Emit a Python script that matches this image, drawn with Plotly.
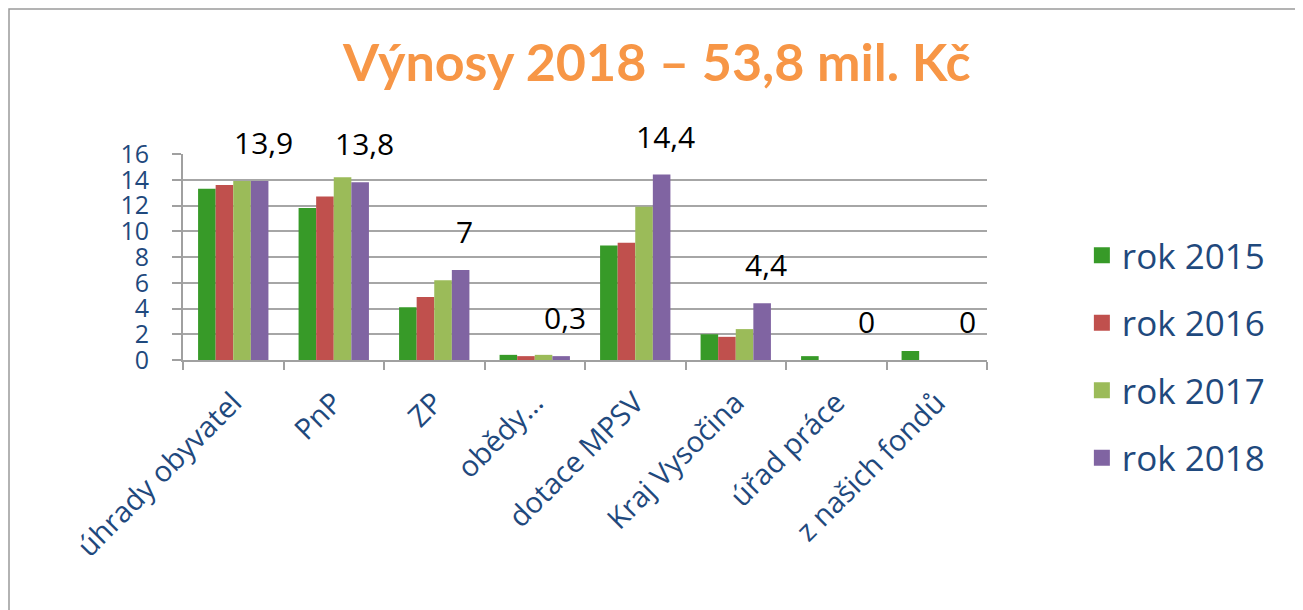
import plotly.graph_objects as go

categories = ["úhrady obyvatel", "PnP", "ZP", "obědy…", "dotace MPSV",
              "Kraj Vysočina", "úřad práce", "z našich fondů"]
series_names = ["rok 2015", "rok 2016", "rok 2017", "rok 2018"]
v2015 = [13.3, 11.8, 4.1, 0.4, 8.9, 2.0, 0.3, 0.7]
v2016 = [13.6, 12.7, 4.9, 0.3, 9.1, 1.8, 0.0, 0.0]
v2017 = [13.9, 14.2, 6.2, 0.4, 11.9, 2.4, 0.0, 0.0]
v2018 = [13.9, 13.8, 7.0, 0.3, 14.4, 4.4, 0.0, 0.0]
y_ticks = [0, 2, 4, 6, 8, 10, 12, 14, 16]
title_text = "Výnosy 2018 – 53,8 mil. Kč"

colors = ["#379A28", "#C0504D", "#9BBB59", "#8064A2"]
FONT = "Open Sans"
BLUE = "#1F497D"

W, H = 1295, 602
ML, MR, MT, MB = 175, 316, 146, 250
plot_w = W - ML - MR
BARGAP = 0.30
n_series = 4
bar_w = plot_w / len(categories) * (1 - BARGAP) / n_series

fig = go.Figure()
all_vals = [v2015, v2016, v2017, v2018]
for i, (name, vals) in enumerate(zip(series_names, all_vals)):
    fig.add_trace(go.Bar(x=categories, y=vals, name=name,
                         marker=dict(color=colors[i], line=dict(width=0)),
                         showlegend=False))
    fig.add_trace(go.Scatter(x=[None], y=[None], mode="markers", name=name,
                             marker=dict(symbol="square", size=24, color=colors[i]),
                             legendgroup=name, showlegend=True))

# data labels for the last series (rok 2018)
annotations = []
for cat, v in zip(categories, v2018):
    annotations.append(dict(
        x=cat, y=v, xref="x", yref="y",
        text=f"{v:g}".replace(".", ","),
        showarrow=False, xanchor="center", yanchor="bottom",
        xshift=1.5 * bar_w + 4, yshift=16,
        font=dict(size=30, color="#000000", family=FONT),
    ))

fig.update_layout(
    width=W, height=H,
    paper_bgcolor="white", plot_bgcolor="white",
    margin=dict(l=ML, r=MR, t=MT, b=MB, autoexpand=False),
    barmode="group", bargap=BARGAP, bargroupgap=0.0,
    font=dict(family=FONT, color=BLUE),
    title=dict(text=f"<b>{title_text}</b>", x=0.501, xanchor="center",
               y=0.909, yanchor="middle",
               font=dict(size=52, color="#F79646", family="Lato")),
    showlegend=True,
    legend=dict(x=1.118, xanchor="left", y=0.017, yanchor="middle",
                font=dict(size=35, color=BLUE, family=FONT),
                traceorder="grouped", tracegroupgap=19, maxheight=600,
                itemsizing="trace", bgcolor="rgba(0,0,0,0)"),
    xaxis=dict(tickangle=-45, tickfont=dict(size=29, color=BLUE, family=FONT),
               tickson="boundaries", ticks="outside", ticklen=8, tickcolor="#A0A0A0",
               tickwidth=2, showline=True, linecolor="#A0A0A0", linewidth=2,
               showgrid=False, ticklabelstandoff=12),
    yaxis=dict(range=[0, 16], tickvals=y_ticks,
               tickfont=dict(size=25, color=BLUE, family=FONT),
               showgrid=True, gridcolor="#A6A6A6", gridwidth=2,
               showline=True, linecolor="#A0A0A0", linewidth=2,
               ticks="outside", ticklen=9, tickcolor="#A0A0A0", tickwidth=2,
               ticklabelstandoff=18, zeroline=False),
    annotations=annotations,
    shapes=[dict(type="rect", xref="paper", yref="paper",
                 x0=-(ML - 1) / plot_w, x1=(1289 - ML) / plot_w,
                 y0=-(H + 10 - (H - MB)) / (H - MT - MB),
                 y1=(H - MB - 1) / (H - MT - MB),
                 line=dict(color="#9A9A9A", width=1.5), fillcolor="rgba(0,0,0,0)",
                 layer="below")],
)

fig.write_html("out.html")
